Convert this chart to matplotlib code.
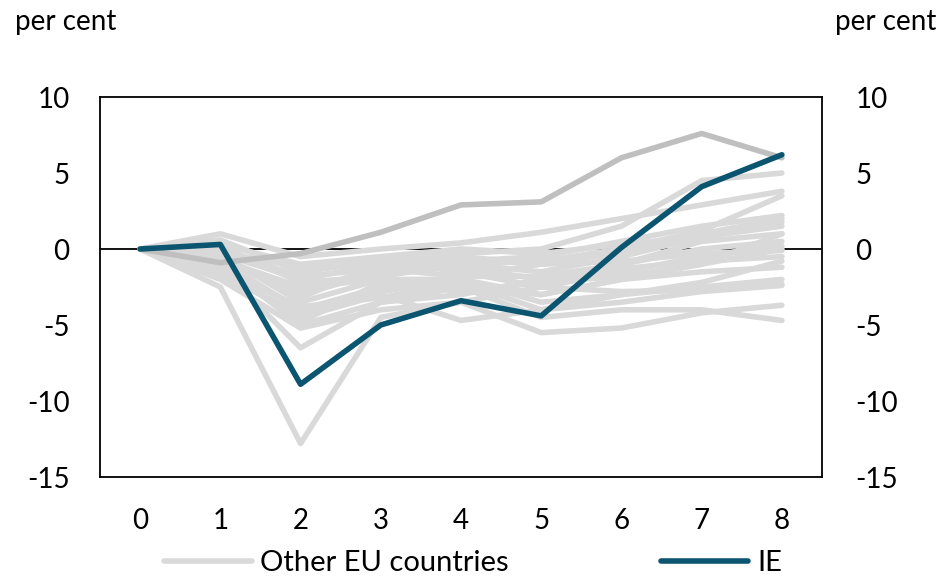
import matplotlib
matplotlib.use("Agg")
import matplotlib.pyplot as plt

plt.rcParams['font.family'] = ['Lato', 'DejaVu Sans']
plt.rcParams['axes.unicode_minus'] = False

years = [0, 1, 2, 3, 4, 5, 6, 7, 8]

# other EU countries (light grey)
others = [
    [0, 1.0, -0.5, 0.0, 0.4, 1.1, 2.0, 2.9, 3.8],
    [0, 0.6, -1.5, -0.8, -0.3, 0.0, 1.5, 4.5, 5.0],
    [0, -2.5, -12.8, -4.5, -3.5, -2.5, -1.5, -0.5, 0.2],
    [0, -1.2, -6.5, -3.5, -2.5, -3.0, -2.0, -1.0, 1.0],
    [0, -0.3, -2.0, -1.0, -0.8, -0.5, 0.5, 1.5, 2.2],
    [0, -0.5, -3.0, -1.5, -1.0, -1.5, -0.5, 0.8, 1.5],
    [0, -0.8, -4.0, -2.5, -1.8, -1.0, -0.2, 1.0, 2.0],
    [0, -1.0, -5.0, -3.5, -3.0, -2.0, -1.0, 0.0, 0.5],
    [0, -1.5, -4.5, -3.0, -4.7, -4.0, -3.0, -2.5, -2.0],
    [0, -2.0, -5.2, -4.0, -3.5, -5.5, -5.2, -4.2, -3.7],
    [0, -0.7, -2.5, -2.0, -2.5, -4.5, -4.0, -4.0, -4.7],
    [0, -0.2, -1.2, -0.8, -1.5, -2.5, -2.8, -2.7, -2.3],
    [0, -0.4, -3.5, -2.0, -2.0, -3.0, -2.0, -1.5, -1.2],
    [0, 0.3, -1.0, -0.5, 0.0, -0.3, 0.3, 0.8, 1.8],
    [0, -0.9, -2.8, -1.2, -1.2, -2.0, -1.3, -0.8, -0.5],
    [0, -1.8, -4.2, -2.8, -2.0, -3.5, -3.0, -2.2, -0.8],
    [0, 0.2, -2.2, -1.8, -1.0, -0.8, 0.0, 1.2, 3.5],
    [0, -0.6, -3.2, -1.0, -0.5, -1.0, -0.8, -0.3, -0.1],
    [0, -1.1, -4.8, -2.2, -2.8, -2.2, -1.8, -1.0, 0.0],
    [0, -0.1, -1.8, -1.3, -1.8, -1.8, -1.0, 0.5, 1.0],
    [0, -1.4, -3.8, -3.2, -2.2, -4.0, -3.5, -2.8, -2.4],
]
# one other EU country drawn a bit darker
other_dark = [0, -0.9, -0.3, 1.1, 2.9, 3.1, 6.0, 7.6, 6.0]
ie = [0, 0.3, -8.9, -5.0, -3.4, -4.4, 0.1, 4.1, 6.2]

yticks = [-15, -10, -5, 0, 5, 10]

light = '#d9d9d9'
dark = '#bfbfbf'
teal = '#0b5570'
fs = 20

fig = plt.figure(figsize=(9.41, 5.76), dpi=100)
ax = fig.add_axes([100 / 941, 99 / 576, 722 / 941, 380 / 576])

for i, s in enumerate(others):
    ax.plot(years, s, color=light, lw=4.0, solid_capstyle='round',
            label='Other EU countries' if i == 0 else None)
ax.plot(years, other_dark, color=dark, lw=4.0, solid_capstyle='round')
ax.axhline(0, color='black', lw=1.3, zorder=1.5)
ax.plot(years, ie, color=teal, lw=4.0, solid_capstyle='round', label='IE')

ax.set_xlim(-0.5, 8.5)
ax.set_ylim(-15, 10)
ax.set_xticks(years)
ax.set_yticks(yticks)
ax.tick_params(axis='both', length=0, labelsize=fs)
ax.tick_params(axis='y', pad=22)
ax.tick_params(axis='x', pad=22)
for sp in ax.spines.values():
    sp.set_color('black')
    sp.set_linewidth(1.3)

ax2 = ax.twinx()
ax2.set_ylim(-15, 10)
ax2.set_yticks(yticks)
ax2.tick_params(axis='y', length=0, labelsize=fs, pad=24)
for sp in ax2.spines.values():
    sp.set_visible(False)

fig.text(15 / 941, 1 - 22 / 576, 'per cent', fontsize=fs, va='center', ha='left')
fig.text(936 / 941, 1 - 22 / 576, 'per cent', fontsize=fs, va='center', ha='right')

fig.legend(loc='center', bbox_to_anchor=(473 / 941, 1 - 563 / 576), ncol=2,
           frameon=False, fontsize=21, handlelength=3.0, handletextpad=0.3,
           columnspacing=5.2, borderpad=0, borderaxespad=0)

fig.savefig('out.png', dpi=100)
